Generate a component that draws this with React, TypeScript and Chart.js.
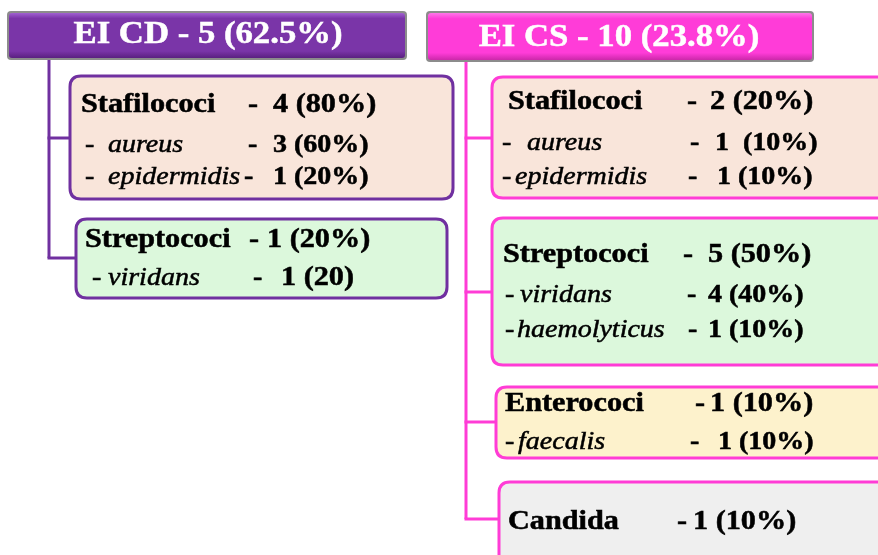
import React, { useEffect, useRef } from "react";
import { Chart, registerables } from "chart.js";
Chart.register(...registerables);

// ---- data ----
const groupNames = ["EI CD", "EI CS"];
const groupCounts = [5, 10];
const groupPercents = ["62.5%", "23.8%"];

const cdGenera = ["Stafilococi", "Streptococi"];
const cdGenusValues = ["4 (80%)", "1 (20%)"];
const cdSpecies = ["aureus", "epidermidis", "viridans"];
const cdSpeciesValues = ["3 (60%)", "1 (20%)", "1 (20)"];
const cdSpeciesGenus = [0, 0, 1];

const csGenera = ["Stafilococi", "Streptococi", "Enterococi", "Candida"];
const csGenusValues = ["2 (20%)", "5 (50%)", "1 (10%)", "1 (10%)"];
const csSpecies = ["aureus", "epidermidis", "viridans", "haemolyticus", "faecalis"];
const csSpeciesValues = ["1  (10%)", "1 (10%)", "4 (40%)", "1 (10%)", "1 (10%)"];
const csSpeciesGenus = [0, 0, 1, 1, 2];

// ---- layout (in scale units) ----
const HEADERS = [
  { x0: 8, x1: 405, y0: 12, y1: 58, cx: 208, base: 43 },
  { x0: 427, x1: 812, y0: 12, y1: 60, cx: 619, base: 46 },
];
const TRUNK = [
  { x: 49, y0: 58, y1: 258 },
  { x: 466, y0: 60, y1: 519 },
];
const BOXES = [
  [
    { x0: 70, x1: 453, y0: 76, y1: 199, cy: 138 },
    { x0: 76, x1: 447, y0: 219, y1: 298, cy: 258 },
  ],
  [
    { x0: 492, x1: 895, y0: 77, y1: 198, cy: 138 },
    { x0: 492, x1: 895, y0: 218, y1: 365, cy: 292 },
    { x0: 496, x1: 895, y0: 387, y1: 458, cy: 422 },
    { x0: 499, x1: 895, y0: 482, y1: 575, cy: 519 },
  ],
];
// genus line positions: [labelX, dashX, valueX, baselineY]
const GENUS_POS = [
  [[81, 248, 273, 112], [85, 249, 267, 247]],
  [[508, 687, 710, 109], [503, 683, 708, 262], [505, 695, 710, 411], [508, 677, 693, 529]],
];
// species positions: [dashX, nameX, dash2X, valueX, baselineY]
const SPECIES_POS = [
  [[85, 108, 248, 273, 152], [85, 108, 244, 273, 184], [92, 108, 253, 281, 285]],
  [
    [502, 527, 690, 715, 150],
    [502, 515, 688, 717, 184],
    [505, 520, 687, 708, 302],
    [505, 517, 688, 708, 337],
    [505, 518, 690, 718, 449],
  ],
];
const SPECIES_BIG = [[false, false, true], [false, false, false, false, false]];

const COLORS = {
  groupLine: ["#7030a0", "#ff3cd6"],
  headerTop: ["#a868d8", "#ff80ec"],
  headerMain: ["#7a35a8", "#ff3cd8"],
  headerBottom: ["#5a2080", "#cc28aa"],
  boxFill: [["#f9e5da", "#dcf8dc"], ["#f9e5da", "#dcf8dc", "#fdf2cc", "#efefef"]],
};
const FONT = "'Liberation Serif', 'Times New Roman', serif";
const SX = 1.12;

function roundRect(ctx: CanvasRenderingContext2D, x: number, y: number, w: number, h: number, r: number) {
  ctx.beginPath();
  ctx.moveTo(x + r, y);
  ctx.lineTo(x + w - r, y);
  ctx.quadraticCurveTo(x + w, y, x + w, y + r);
  ctx.lineTo(x + w, y + h - r);
  ctx.quadraticCurveTo(x + w, y + h, x + w - r, y + h);
  ctx.lineTo(x + r, y + h);
  ctx.quadraticCurveTo(x, y + h, x, y + h - r);
  ctx.lineTo(x, y + r);
  ctx.quadraticCurveTo(x, y, x + r, y);
  ctx.closePath();
}

function text(ctx: CanvasRenderingContext2D, s: string, x: number, y: number, font: string, color: string, center = false) {
  ctx.save();
  ctx.font = font;
  ctx.fillStyle = color;
  ctx.strokeStyle = color;
  ctx.lineWidth = 0.5;
  ctx.textBaseline = "alphabetic";
  ctx.textAlign = "left";
  const w = ctx.measureText(s).width * SX;
  ctx.translate(center ? x - w / 2 : x, y);
  ctx.scale(SX, 1);
  ctx.fillText(s, 0, 0);
  ctx.strokeText(s, 0, 0);
  ctx.restore();
}

const treePlugin = {
  id: "tree",
  afterDraw(chart: any) {
    const ctx: CanvasRenderingContext2D = chart.ctx;
    const X = (v: number) => chart.scales.x.getPixelForValue(v);
    const Y = (v: number) => chart.scales.y.getPixelForValue(v);
    const groups = [
      { genera: cdGenera, gv: cdGenusValues, sp: cdSpecies, sv: cdSpeciesValues, sg: cdSpeciesGenus },
      { genera: csGenera, gv: csGenusValues, sp: csSpecies, sv: csSpeciesValues, sg: csSpeciesGenus },
    ];
    ctx.save();
    groups.forEach((g, gi) => {
      const lc = COLORS.groupLine[gi];
      ctx.strokeStyle = lc;
      ctx.lineWidth = 3;
      ctx.beginPath();
      ctx.moveTo(X(TRUNK[gi].x), Y(TRUNK[gi].y0));
      ctx.lineTo(X(TRUNK[gi].x), Y(TRUNK[gi].y1));
      ctx.stroke();
      g.genera.forEach((_, bi) => {
        const b = BOXES[gi][bi];
        ctx.beginPath();
        ctx.moveTo(X(TRUNK[gi].x) - 1.5, Y(b.cy));
        ctx.lineTo(X(b.x0), Y(b.cy));
        ctx.stroke();
      });
      g.genera.forEach((_, bi) => {
        const b = BOXES[gi][bi];
        roundRect(ctx, X(b.x0), Y(b.y0), X(b.x1) - X(b.x0), Y(b.y1) - Y(b.y0), 11);
        ctx.fillStyle = COLORS.boxFill[gi][bi];
        ctx.fill();
        ctx.strokeStyle = lc;
        ctx.lineWidth = 3;
        ctx.stroke();
      });
      const h = HEADERS[gi];
      roundRect(ctx, X(h.x0) - 1, Y(h.y0) - 1, X(h.x1) - X(h.x0) + 3, Y(h.y1) - Y(h.y0) + 3, 4);
      ctx.fillStyle = "#8c8c8c";
      ctx.fill();
      const grad = ctx.createLinearGradient(0, Y(h.y0), 0, Y(h.y1));
      grad.addColorStop(0, COLORS.headerTop[gi]);
      grad.addColorStop(0.14, COLORS.headerMain[gi]);
      grad.addColorStop(0.85, COLORS.headerMain[gi]);
      grad.addColorStop(1, COLORS.headerBottom[gi]);
      roundRect(ctx, X(h.x0) + 1, Y(h.y0) + 1, X(h.x1) - X(h.x0) - 1, Y(h.y1) - Y(h.y0) - 1, 3);
      ctx.fillStyle = grad;
      ctx.fill();
      text(ctx, `${groupNames[gi]} - ${groupCounts[gi]} (${groupPercents[gi]})`, X(h.cx), Y(h.base), `bold 31px ${FONT}`, "#ffffff", true);
      g.genera.forEach((name, bi) => {
        const p = GENUS_POS[gi][bi];
        text(ctx, name, X(p[0]), Y(p[3]), `bold 27px ${FONT}`, "#000");
        text(ctx, "-", X(p[1]), Y(p[3]), `bold 27px ${FONT}`, "#000");
        text(ctx, g.gv[bi], X(p[2]), Y(p[3]), `bold 27px ${FONT}`, "#000");
      });
      g.sp.forEach((name, si) => {
        const p = SPECIES_POS[gi][si];
        const big = SPECIES_BIG[gi][si];
        text(ctx, "-", X(p[0]), Y(p[4]), `25px ${FONT}`, "#000");
        text(ctx, name, X(p[1]), Y(p[4]), `italic 25px ${FONT}`, "#000");
        text(ctx, "-", X(p[2]), Y(p[4]), `bold 25px ${FONT}`, "#000");
        text(ctx, g.sv[si], X(p[3]), Y(p[4]), `bold ${big ? 27 : 25}px ${FONT}`, "#000");
      });
    });
    ctx.restore();
  },
};

export default function App() {
  const ref = useRef<HTMLCanvasElement>(null);
  useEffect(() => {
    document.body.style.margin = "0";
    const chart = new Chart(ref.current!, {
      type: "scatter",
      data: { datasets: [{ data: [], pointRadius: 0 }] },
      options: {
        animation: false,
        responsive: false,
        maintainAspectRatio: false,
        layout: { padding: 0 },
        plugins: { legend: { display: false }, tooltip: { enabled: false } },
        scales: {
          x: { type: "linear", min: 0, max: 878, display: false },
          y: { type: "linear", min: 0, max: 555, reverse: true, display: false },
        },
      },
      plugins: [treePlugin],
    });
    return () => chart.destroy();
  }, []);
  return (
    <div style={{ width: 878, height: 555, background: "#fff" }}>
      <canvas ref={ref} width={878} height={555} style={{ display: "block" }} />
    </div>
  );
}
